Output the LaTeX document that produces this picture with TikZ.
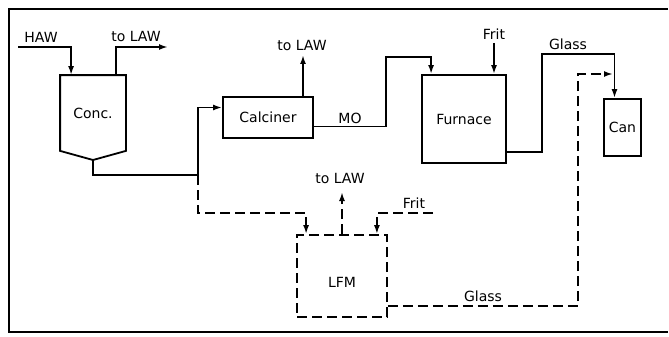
\documentclass[tikz,border=0pt]{standalone}
\usepackage{fontspec}
\setmainfont{DejaVu Sans}
\usetikzlibrary{arrows.meta}

\begin{document}
\begin{tikzpicture}[
x=1pt, y=-1pt, % px-like units, y pointing down
line width=1.8pt,
every node/.style={font=\fontsize{14}{16}\selectfont},
unit/.style={draw, minimum width=#1, inner sep=0pt},
lbl/.style={inner sep=1pt},
pipe/.style={line width=1.8pt},
flow/.style={pipe, -{Latex[length=9pt,width=6pt]}},
dflow/.style={flow, dash pattern=on 10pt off 5pt},
dbox/.style={dash pattern=on 10pt off 5pt}
]
\useasboundingbox (0,0) rectangle (669,337);

% --- Khung ngoài ---
\draw (668,9) -- (9,9) -- (9,332) -- (668,332);

% --- Các thiết bị ---
\node[minimum width=64pt, minimum height=74pt, inner sep=0pt] (conc) at (93,113) {Conc.};
\coordinate (tip) at (93,160);
\draw (conc.south west) -- (conc.north west) -- (conc.north east) -- (conc.south east) -- (tip) -- cycle;

\node[unit=90pt, minimum height=41pt] (calc) at (268,117.5) {Calciner};
\node[unit=84pt, minimum height=88pt] (furn) at (464,119) {Furnace};
\node[unit=37pt, minimum height=57pt] (can) at (622.5,127.5) {Can};
\node[unit=90pt, minimum height=82pt, dbox] (lfm) at (342,276) {};
\node at (342,282) {LFM};

% --- Dòng vào / ra của Conc. ---
\coordinate (haw) at (18,47);
\coordinate (lawA) at (168,47);
\draw[flow] (haw) -| ([xshift=11pt]conc.north west);
\node[lbl] at (41,37) {HAW};
\draw[flow] ([xshift=-10pt]conc.north east) |- (lawA);
\node[lbl] at (136,36) {to LAW};

\coordinate (split) at (198,175);
\coordinate (dsplit) at (198,213);
\draw[pipe] (tip) |- (split);
\draw[flow] (split) |- ([yshift=10pt]calc.west);
\draw[dflow] (split) -- (dsplit) -| ([xshift=10pt]lfm.north west);

% --- Calciner ---
\coordinate (lawB) at (303,55);
\draw[flow] (calc.north east -| lawB) -- (lawB);
\node[lbl] at (302,45) {to LAW};

\coordinate (mo) at (386,57);
\draw[flow] ([yshift=-9pt]calc.east) -| (mo) -| ([xshift=10pt]furn.north west);
\node[lbl] at (350,118) {MO};

% --- Furnace ---
\coordinate (fritA) at (494,43);
\draw[flow] (fritA) -- (fritA |- furn.north);
\node[lbl] at (494,34) {Frit};

\coordinate (glA) at (542,54);
\draw[flow] ([yshift=-33pt]furn.east) -| (glA) -| ([xshift=-8pt]can.north);
\node[lbl] at (568,44) {Glass};

% --- LFM ---
\coordinate (lawC) at (342,192);
\draw[dflow] (lfm.north) -- (lawC);
\node[lbl] at (340,178) {to LAW};

\coordinate (fritB) at (433,213);
\draw[dflow] (fritB) -| ([xshift=-11pt]lfm.north east);
\node[lbl] at (414,203) {Frit};

\coordinate (glB) at (578,74);
\coordinate (glC) at (613,74);
\draw[dflow] ([yshift=-30pt]lfm.east) -| (glB) -- (glC);
\node[lbl] at (483,296) {Glass};

\end{tikzpicture}
\end{document}
